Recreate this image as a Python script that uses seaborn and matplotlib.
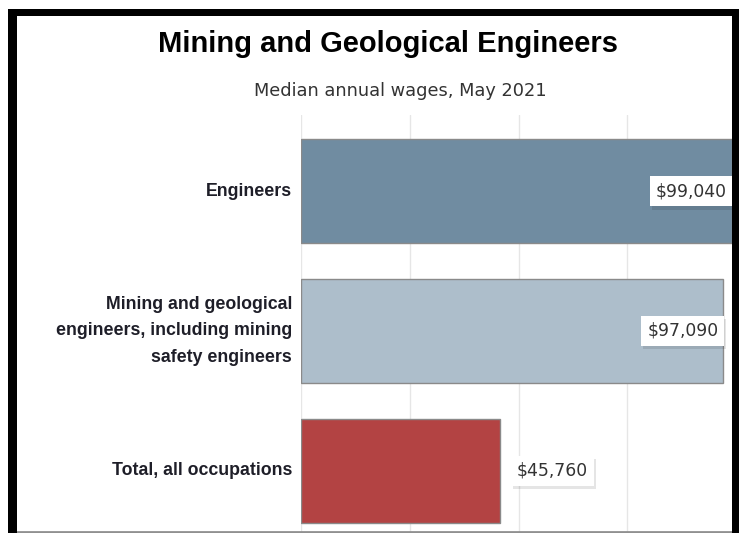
# Median annual wages - mining and geological engineers (horizontal bars)

import matplotlib
matplotlib.use('Agg')  # Para salvar sem abrir janela
import matplotlib.pyplot as plt
import matplotlib.patheffects as pe
from matplotlib.patches import Rectangle
from matplotlib.lines import Line2D
import seaborn as sns
import pandas as pd

# dados
categorias = [
    "Engineers",
    "Mining and geological\nengineers, including mining\nsafety engineers",
    "Total, all occupations",
]
salarios = [99040, 97090, 45760]
rotulos = ["$99,040", "$97,090", "$45,760"]
cores = ["#708ca1", "#adbecb", "#b34343"]

df = pd.DataFrame({"categoria": categorias, "salario": salarios})

sns.set_style("white")
plt.rcParams['font.family'] = ['Liberation Sans', 'DejaVu Sans']

W, H = 739, 533
fig = plt.figure(figsize=(W / 100, H / 100), dpi=100)

# eixo: começa em x=301 px e vai até a borda direita (gráfico recortado)
x0, topo = 301, 115
ax = fig.add_axes([x0 / W, 0, (W - x0) / W, 1 - topo / H])

sns.barplot(data=df, y="categoria", x="salario", hue="categoria",
            palette=cores, saturation=1, orient="h", width=0.74,
            edgecolor="#8a8a8a", linewidth=1, legend=False, ax=ax)

escala = 0.00435  # px por dolar
ax.set_xlim(0, (W - x0) / escala)
ax.set_ylim(2.443, -0.543)
ax.set_xticks([0, 25000, 50000, 75000, 100000])
ax.set_xticklabels([])
ax.set_xlabel("")
ax.set_ylabel("")
ax.set_axisbelow(True)
ax.xaxis.grid(True, color="#e6e6e6", lw=1)
ax.yaxis.grid(False)
for s in ax.spines.values():
    s.set_visible(False)
ax.tick_params(axis="both", length=0)
ax.tick_params(axis="y", pad=6.5)
for t in ax.get_yticklabels():
    t.set_fontweight("bold")
    t.set_fontsize(12.8)
    t.set_color("#1e1e28")
    t.set_linespacing(1.75)
    t.set_verticalalignment("center")

# rótulos de valor com caixa branca e sombra
limite = ax.get_xlim()[1] * 0.8
for i, (v, r) in enumerate(zip(salarios, rotulos)):
    if v > limite:
        dx, ha = -5, "right"
    else:
        dx, ha = 17, "left"
    txt = ax.annotate(r, xy=(v, i), xytext=(dx, 0), textcoords="offset pixels",
                      ha=ha, va="center", fontsize=12.4, color="#333333",
                      family=["DejaVu Sans"], zorder=5, annotation_clip=False,
                      bbox=dict(boxstyle="square,pad=0.35", fc="white", ec="none"))
    txt.get_bbox_patch().set_path_effects(
        [pe.withSimplePatchShadow(offset=(1.5, -2.5), alpha=0.1, shadow_rgbFace="black")])

# titulos
fig.text(388 / W, 1 - 44 / H, "Mining and Geological Engineers", ha="center",
         va="center", fontsize=21, fontweight="bold", color="black")
fig.text(400 / W, 1 - 91 / H, "Median annual wages, May 2021", ha="center",
         va="center", fontsize=12.8, color="#333333", family=["DejaVu Sans"])

# moldura preta da captura de tela
preto = dict(facecolor="black", edgecolor="none", transform=None, zorder=20)
fig.patches.append(Rectangle((8, H - 16), W - 8, 7, **preto))
fig.patches.append(Rectangle((8, 0), 9, H - 9, **preto))
fig.patches.append(Rectangle((732, 0), 7, H - 9, **preto))
fig.lines.append(Line2D([17, 732], [1.5, 1.5], color="#909090", lw=2,
                        transform=None, zorder=19))

plt.savefig("out.png", dpi=100)
plt.close()
